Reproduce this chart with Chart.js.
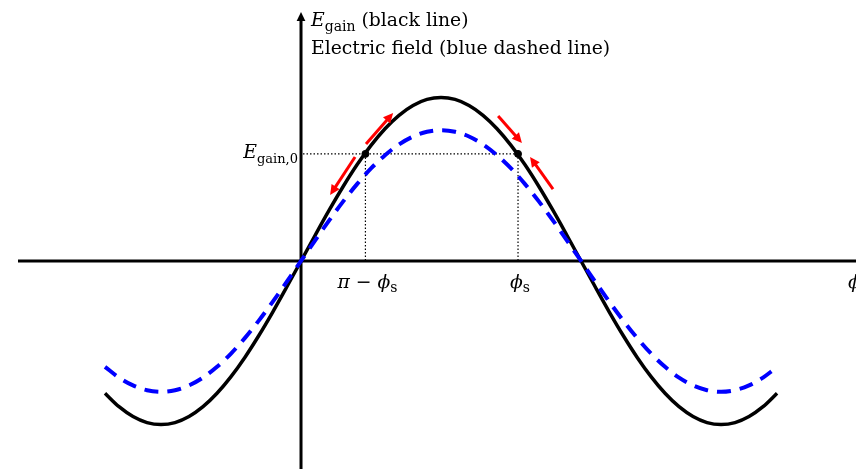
<!DOCTYPE html>
<html>
<head>
<meta charset="utf-8">
<script src="https://cdn.jsdelivr.net/npm/chart.js@4"></script>
<style>
  html, body { margin: 0; padding: 0; background: #fff; }
  #wrap { width: 856px; height: 469px; }
</style>
</head>
<body>
<div id="wrap"><canvas id="chart" width="856" height="469"></canvas></div>
<script>
// phase in units of pi, amplitude normalised to the peak energy gain
const phase = [-0.70, -0.65, -0.60, -0.55, -0.50, -0.45, -0.40, -0.35, -0.30, -0.25,
               -0.20, -0.15, -0.10, -0.05, 0, 0.05, 0.10, 0.15, 0.20, 0.25,
               0.30, 0.35, 0.40, 0.45, 0.50, 0.55, 0.60, 0.65, 0.70, 0.75,
               0.80, 0.85, 0.90, 0.95, 1.00, 1.05, 1.10, 1.15, 1.20, 1.25,
               1.30, 1.35, 1.40, 1.45, 1.50, 1.55, 1.60, 1.65, 1.70];
const gain = [-0.809, -0.891, -0.951, -0.988, -1.000, -0.988, -0.951, -0.891, -0.809, -0.707,
              -0.588, -0.454, -0.309, -0.156, 0, 0.156, 0.309, 0.454, 0.588, 0.707,
              0.809, 0.891, 0.951, 0.988, 1.000, 0.988, 0.951, 0.891, 0.809, 0.707,
              0.588, 0.454, 0.309, 0.156, 0, -0.156, -0.309, -0.454, -0.588, -0.707,
              -0.809, -0.891, -0.951, -0.988, -1.000, -0.988, -0.951, -0.891, -0.809];
const fieldPhase = [-0.70, -0.65, -0.60, -0.55, -0.50, -0.45, -0.40, -0.35, -0.30, -0.25,
                    -0.20, -0.15, -0.10, -0.05, 0, 0.05, 0.10, 0.15, 0.20, 0.25,
                    0.30, 0.35, 0.40, 0.45, 0.50, 0.55, 0.60, 0.65, 0.70, 0.75,
                    0.80, 0.85, 0.90, 0.95, 1.00, 1.05, 1.10, 1.15, 1.20, 1.25,
                    1.30, 1.35, 1.40, 1.45, 1.50, 1.55, 1.60, 1.65, 1.68];
const field = [-0.647, -0.713, -0.761, -0.790, -0.800, -0.790, -0.761, -0.713, -0.647, -0.566,
               -0.470, -0.363, -0.247, -0.125, 0, 0.125, 0.247, 0.363, 0.470, 0.566,
               0.647, 0.713, 0.761, 0.790, 0.800, 0.790, 0.761, 0.713, 0.647, 0.566,
               0.470, 0.363, 0.247, 0.125, 0, -0.125, -0.247, -0.363, -0.470, -0.566,
               -0.647, -0.713, -0.761, -0.790, -0.800, -0.790, -0.761, -0.713, -0.675];

// synchronous phases (pi - phi_s and phi_s) and the gain there
const syncPhase = [0.23, 0.775];
const syncGain = [0.655, 0.655];

// red arrows showing the phase drift: [x0, y0, x1, y1], head at the end
const arrows = [
  [0.232, 0.716, 0.329, 0.905],
  [0.193, 0.636, 0.104, 0.404],
  [0.704, 0.887, 0.789, 0.722],
  [0.900, 0.440, 0.818, 0.636]
];

const serif = '"DejaVu Serif", serif';

function richText(ctx, x, y, parts, align) {
  // parts: [text, font, dy]
  let w = 0;
  parts.forEach(p => { ctx.font = p[1]; w += ctx.measureText(p[0]).width; });
  let cx = align === 'right' ? x - w : align === 'center' ? x - w / 2 : x;
  ctx.textAlign = 'left';
  ctx.textBaseline = 'alphabetic';
  parts.forEach(p => {
    ctx.font = p[1];
    ctx.fillText(p[0], cx, y + (p[2] || 0));
    cx += ctx.measureText(p[0]).width;
  });
}

function arrowHead(ctx, x0, y0, x1, y1, size) {
  const a = Math.atan2(y1 - y0, x1 - x0);
  ctx.beginPath();
  ctx.moveTo(x1, y1);
  ctx.lineTo(x1 - size * Math.cos(a - 0.45), y1 - size * Math.sin(a - 0.45));
  ctx.lineTo(x1 - size * Math.cos(a + 0.45), y1 - size * Math.sin(a + 0.45));
  ctx.closePath();
  ctx.fill();
}

const decorations = {
  id: 'decorations',
  beforeDatasetsDraw(chart) {
    const ctx = chart.ctx;
    const xs = chart.scales.x, ys = chart.scales.y;
    const x0 = xs.getPixelForValue(0), y0 = ys.getPixelForValue(0);
    ctx.save();
    // axes
    ctx.strokeStyle = '#000';
    ctx.lineWidth = 3;
    ctx.beginPath();
    ctx.moveTo(18, y0); ctx.lineTo(chart.width, y0);
    ctx.moveTo(x0, chart.height); ctx.lineTo(x0, 20);
    ctx.stroke();
    ctx.fillStyle = '#000';
    arrowHead(ctx, x0, 40, x0, 12, 10);

    // dotted guides to the synchronous points
    ctx.lineWidth = 1.2;
    ctx.setLineDash([1.5, 2]);
    const ye = ys.getPixelForValue(syncGain[0]);
    ctx.beginPath();
    ctx.moveTo(x0 + 2, ye); ctx.lineTo(xs.getPixelForValue(syncPhase[1]), ye);
    syncPhase.forEach(p => {
      const px = xs.getPixelForValue(p);
      ctx.moveTo(px, ye); ctx.lineTo(px, y0);
    });
    ctx.stroke();
    ctx.restore();
  },
  afterDatasetsDraw(chart) {
    const ctx = chart.ctx;
    const xs = chart.scales.x, ys = chart.scales.y;
    const x0 = xs.getPixelForValue(0);
    ctx.save();
    // red drift arrows
    ctx.strokeStyle = '#ff0000';
    ctx.fillStyle = '#ff0000';
    ctx.lineWidth = 3;
    arrows.forEach(a => {
      const ax = xs.getPixelForValue(a[0]), ay = ys.getPixelForValue(a[1]);
      const bx = xs.getPixelForValue(a[2]), by = ys.getPixelForValue(a[3]);
      const ang = Math.atan2(by - ay, bx - ax);
      ctx.beginPath();
      ctx.moveTo(ax, ay);
      ctx.lineTo(bx - 7 * Math.cos(ang), by - 7 * Math.sin(ang));
      ctx.stroke();
      arrowHead(ctx, ax, ay, bx, by, 11);
    });

    // labels
    ctx.fillStyle = '#000';
    const it = 'italic 18.8px ' + serif, rm = '18.8px ' + serif, sub = '14px ' + serif;
    richText(ctx, x0 + 10, 26, [['E', it], ['gain', sub, 5], [' (black line)', rm]], 'left');
    richText(ctx, x0 + 10, 54, [['Electric field (blue dashed line)', rm]], 'left');
    richText(ctx, x0 - 3, 158, [['E', it], ['gain,0', '13px ' + serif, 5]], 'right');
    richText(ctx, xs.getPixelForValue(syncPhase[0]) + 2, 288,
      [['\u03c0 \u2212 ', it], ['\u03d5', it], ['s', sub, 4]], 'center');
    richText(ctx, xs.getPixelForValue(syncPhase[1]) + 2, 288,
      [['\u03d5', it], ['s', sub, 4]], 'center');
    richText(ctx, chart.width - 8, 288, [['\u03d5', it]], 'left');
    ctx.restore();
  }
};

const toXY = (xsArr, ysArr) => xsArr.map((x, i) => ({ x: x, y: ysArr[i] }));

new Chart(document.getElementById('chart'), {
  type: 'scatter',
  data: {
    datasets: [
      {
        data: toXY(fieldPhase, field),
        showLine: true,
        borderColor: '#0000ff',
        borderWidth: 4,
        borderDash: [14, 9],
        cubicInterpolationMode: 'monotone',
        pointRadius: 0
      },
      {
        data: toXY(phase, gain),
        showLine: true,
        borderColor: '#000',
        borderWidth: 3.5,
        cubicInterpolationMode: 'monotone',
        pointRadius: 0
      },
      {
        data: toXY(syncPhase, syncGain),
        showLine: false,
        pointRadius: 3.5,
        pointBackgroundColor: '#000',
        pointBorderColor: '#000'
      }
    ]
  },
  options: {
    responsive: false,
    animation: false,
    layout: { padding: 0, autoPadding: false },
    plugins: { legend: { display: false }, tooltip: { enabled: false } },
    scales: {
      x: { type: 'linear', display: false, min: -1.075, max: 1.982 },
      y: { type: 'linear', display: false, min: -1.272, max: 1.596 }
    }
  },
  plugins: [decorations]
});
</script>
</body>
</html>
